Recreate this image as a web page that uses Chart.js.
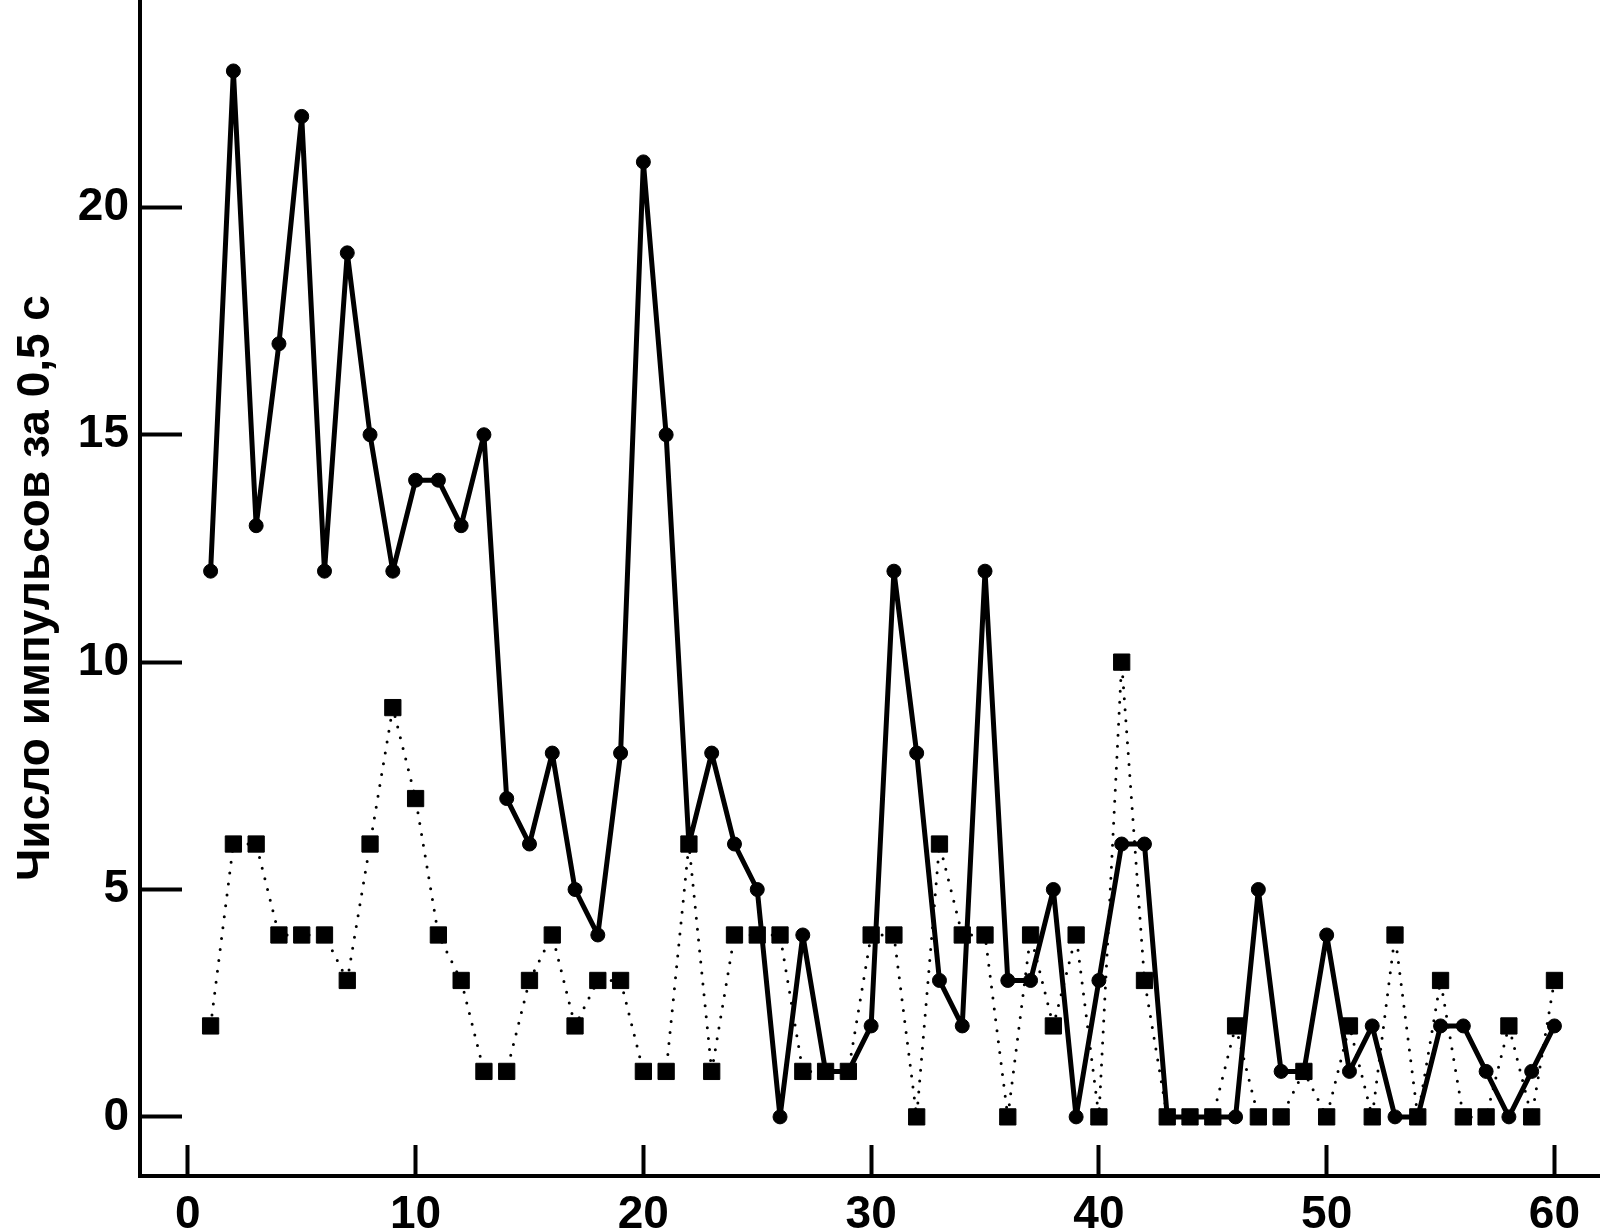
<!DOCTYPE html>
<html>
<head>
<meta charset="utf-8">
<script src="https://cdn.jsdelivr.net/npm/chart.js@4"></script>
<style>
  body { margin: 0; background: #fff; }
  canvas { display: block; }
</style>
</head>
<body>
<canvas id="chart" width="1600" height="1231"></canvas>
<script>
// time bins (0,5 s each)
var time = [1,2,3,4,5,6,7,8,9,10,11,12,13,14,15,16,17,18,19,20,
            21,22,23,24,25,26,27,28,29,30,31,32,33,34,35,36,37,38,39,40,
            41,42,43,44,45,46,47,48,49,50,51,52,53,54,55,56,57,58,59,60];
// solid line, round markers
var pulsesA = [12,23,13,17,22,12,19,15,12,14,14,13,15,7,6,8,5,4,8,21,
               15,6,8,6,5,0,4,1,1,2,12,8,3,2,12,3,3,5,0,3,
               6,6,0,0,0,0,5,1,1,4,1,2,0,0,2,2,1,0,1,2];
// dotted line, square markers
var pulsesB = [2,6,6,4,4,4,3,6,9,7,4,3,1,1,3,4,2,3,3,1,
               1,6,1,4,4,4,1,1,1,4,4,0,6,4,4,0,4,2,4,0,
               10,3,0,0,0,2,0,0,1,0,2,0,4,0,3,0,0,2,0,3];
var xTicks = [0,10,20,30,40,50,60];
var yTicks = [0,5,10,15,20];
var yTitle = 'Число импульсов за 0,5 с';

var tickFont = {family: 'Liberation Sans', size: 46, weight: 'bold'};

// no extra room for overhanging labels, the axes sit on the canvas edges
function noPad(scale) {
  scale.paddingTop = 0;
  scale.paddingBottom = 0;
  scale.paddingLeft = 0;
  scale.paddingRight = 0;
}

var ctx = document.getElementById('chart').getContext('2d');
var myChart = new Chart(ctx, {
  type: 'line',
  data: {
    datasets: [{
      data: time.map(function (t, i) { return {x: t, y: pulsesA[i]}; }),
      borderColor: '#000',
      backgroundColor: '#000',
      borderWidth: 5,
      borderJoinStyle: 'round',
      pointStyle: 'circle',
      pointRadius: 7,
      pointBorderWidth: 1,
      pointBackgroundColor: '#000',
      pointBorderColor: '#000',
      tension: 0
    }, {
      data: time.map(function (t, i) { return {x: t, y: pulsesB[i]}; }),
      borderColor: '#000',
      backgroundColor: '#000',
      borderWidth: 3,
      borderDash: [0, 11],
      borderCapStyle: 'round',
      pointStyle: 'rect',
      pointRadius: 11.5,
      pointBorderWidth: 1,
      pointBackgroundColor: '#000',
      pointBorderColor: '#000',
      tension: 0
    }]
  },
  options: {
    responsive: false,
    animation: false,
    devicePixelRatio: 1,
    layout: {padding: 0, autoPadding: false},
    plugins: {legend: {display: false}, tooltip: {enabled: false}},
    scales: {
      x: {
        type: 'linear',
        min: -2.1,
        max: 62,
        afterBuildTicks: function (scale) {
          scale.ticks = xTicks.map(function (v) { return {value: v}; });
        },
        afterFit: function (scale) { scale.height = 55; noPad(scale); },
        grid: {
          drawOnChartArea: false,
          tickLength: -31,
          tickWidth: 4,
          tickColor: '#000'
        },
        border: {display: true, color: '#000', width: 4},
        ticks: {color: '#000', font: tickFont, padding: 43, maxRotation: 0}
      },
      y: {
        type: 'linear',
        min: -1.3,
        max: 24.56,
        afterBuildTicks: function (scale) {
          scale.ticks = yTicks.map(function (v) { return {value: v}; });
        },
        afterFit: function (scale) { scale.width = 140; noPad(scale); },
        grid: {
          drawOnChartArea: false,
          tickLength: -42,
          tickWidth: 4,
          tickColor: '#000'
        },
        border: {display: true, color: '#000', width: 4},
        ticks: {color: '#000', font: tickFont, padding: 53},
        title: {
          display: true,
          text: yTitle,
          color: '#000',
          font: {family: 'Liberation Sans', size: 46, weight: 'bold'},
          padding: {top: 9, bottom: 0}
        }
      }
    }
  }
});
</script>
</body>
</html>
